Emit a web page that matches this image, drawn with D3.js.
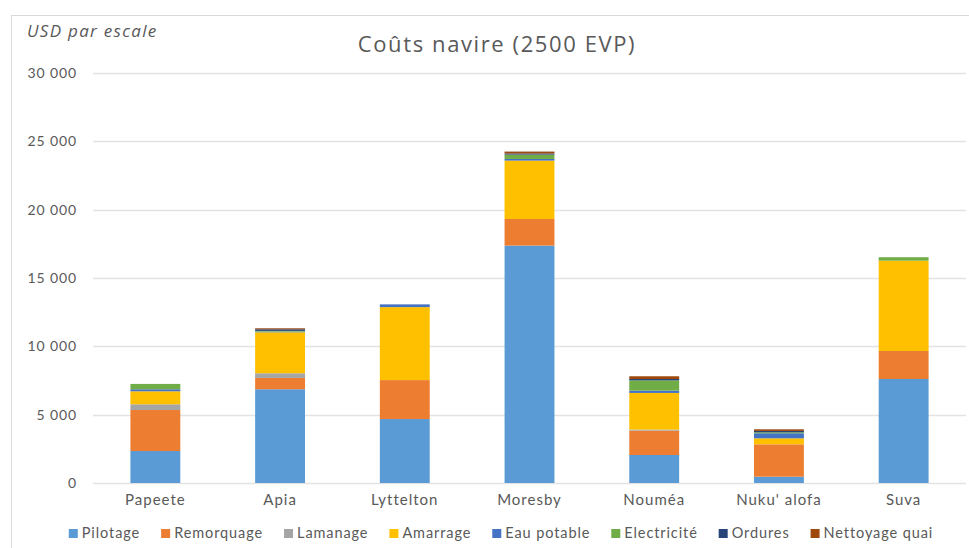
<!DOCTYPE html>
<html>
<head>
<meta charset="utf-8">
<script src="https://cdn.jsdelivr.net/npm/d3@7"></script>
<style>
  body { margin: 0; background: #fff; }
  svg { display: block; font-family: Lato, "Open Sans", sans-serif; }
</style>
</head>
<body>
<svg width="969" height="548"></svg>
<script>
// Ports (categories)
var ports = ["Papeete", "Apia", "Lyttelton", "Moresby", "Nouméa", "Nuku' alofa", "Suva"];

// Cost items (series), USD per call
var series = ["Pilotage", "Remorquage", "Lamanage", "Amarrage", "Eau potable", "Electricité", "Ordures", "Nettoyage quai"];
var pilotage    = [2340, 6860, 4680, 17370, 2050, 460, 7610];
var remorquage  = [3000, 830, 2850, 1950, 1780, 2370, 2050];
var lamanage    = [420, 340, 0, 0, 80, 0, 0];
var amarrage    = [950, 3000, 5340, 4270, 2680, 440, 6610];
var eauPotable  = [150, 50, 200, 120, 170, 370, 0];
var electricite = [390, 50, 0, 320, 750, 70, 250];
var ordures     = [0, 120, 0, 80, 100, 100, 0];
var nettoyage   = [0, 70, 0, 140, 200, 120, 0];
var yTicks = [0, 5000, 10000, 15000, 20000, 25000, 30000];

var colors = ["#5B9BD5", "#ED7D31", "#A5A5A5", "#FFC000", "#4472C4", "#70AD47", "#264478", "#9E480E"];

var values = [pilotage, remorquage, lamanage, amarrage, eauPotable, electricite, ordures, nettoyage];

// build table for d3.stack
var rows = ports.map(function(p, i){
  var r = {port: p};
  series.forEach(function(s, k){ r[s] = values[k][i]; });
  return r;
});

var svg = d3.select("svg");

// outer chart border
svg.append("rect")
  .attr("x", 11.5).attr("y", 15.5)
  .attr("width", 980).attr("height", 560)
  .attr("fill", "none").attr("stroke", "#d9d9d9");

// plot area bounds (don't use "top", it's window.top)
var plotLeft = 93, plotRight = 966, plotTop = 73, plotBottom = 483;

var x = d3.scaleBand().domain(ports).range([plotLeft, plotRight]).paddingInner(0.6).paddingOuter(0.3);
var y = d3.scaleLinear().domain([0, 30000]).range([plotBottom, plotTop]);

var fmt = function(d){ return d3.format(",")(d).replace(/,/g, " "); };

// gridlines
svg.append("g").selectAll("line").data(yTicks).join("line")
  .attr("x1", plotLeft).attr("x2", plotRight)
  .attr("y1", function(d){ return Math.round(y(d)) + 0.5; })
  .attr("y2", function(d){ return Math.round(y(d)) + 0.5; })
  .attr("stroke", "#e3e3e3").attr("stroke-width", 1.5);

// y tick labels
svg.append("g").selectAll("text").data(yTicks).join("text")
  .attr("x", 77).attr("y", function(d){ return y(d); })
  .attr("dy", "0.35em").attr("text-anchor", "end")
  .attr("font-size", 14).attr("letter-spacing", 0.9).attr("fill", "#595959")
  .text(fmt);

// stacked bars
var stacked = d3.stack().keys(series)(rows);
svg.append("g").selectAll("g").data(stacked).join("g")
  .attr("fill", function(d, i){ return colors[i]; })
  .selectAll("rect").data(function(d){ return d; }).join("rect")
  .attr("x", function(d){ return x(d.data.port); })
  .attr("width", x.bandwidth())
  .attr("y", function(d){ return y(d[1]); })
  .attr("height", function(d){ return y(d[0]) - y(d[1]); });

// x axis labels
svg.append("g").selectAll("text").data(ports).join("text")
  .attr("x", function(d){ return x(d) + x.bandwidth() / 2; })
  .attr("y", 505).attr("text-anchor", "middle")
  .attr("font-size", 15).attr("letter-spacing", 1).attr("fill", "#595959")
  .text(function(d){ return d; });

// title and unit
svg.append("text").attr("x", 497).attr("y", 52).attr("text-anchor", "middle")
  .attr("font-family", "'Open Sans', sans-serif")
  .attr("font-size", 22).attr("letter-spacing", 1.6).attr("fill", "#595959").text("Coûts navire (2500 EVP)");
svg.append("text").attr("x", 27).attr("y", 37).attr("font-style", "italic")
  .attr("font-family", "'Open Sans', sans-serif")
  .attr("font-size", 17).attr("letter-spacing", 1.3).attr("fill", "#595959").text("USD par escale");

// legend
var legend = svg.append("g");
var lx = 0, gap = 21;
series.forEach(function(s, i){
  var g = legend.append("g").attr("transform", "translate(" + lx + ",538)");
  g.append("rect").attr("x", 0).attr("y", -9).attr("width", 9).attr("height", 9).attr("fill", colors[i]);
  var t = g.append("text").attr("x", 13).attr("y", 0).attr("font-size", 14.5)
    .attr("letter-spacing", 0.9).attr("fill", "#595959").text(s);
  lx += 13 + t.node().getComputedTextLength() + gap;
});
// centre the legend under the chart
var lw = lx - gap;
legend.attr("transform", "translate(" + (501 - lw / 2) + ",0)");
</script>
</body>
</html>
